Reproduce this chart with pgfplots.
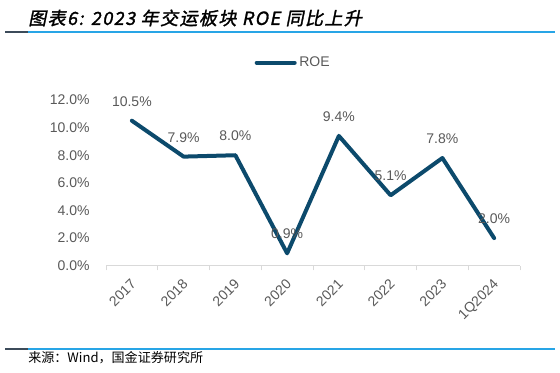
\documentclass[border=0pt]{standalone}
\usepackage{pgfplots}
\pgfplotsset{compat=1.18}
\usepackage{fontspec}
\setmainfont{Liberation Sans}
\newfontfamily\cjk{Noto Sans CJK SC}
\newfontfamily\cjktitle[FakeSlant=0.2,FakeBold=1.5]{Noto Sans CJK SC}
\definecolor{roe}{RGB}{12,74,108}
\definecolor{txt}{RGB}{89,89,89}
\definecolor{axl}{RGB}{217,217,217}
\definecolor{rulelight}{RGB}{40,165,230}
\definecolor{ruledark}{RGB}{60,75,90}
\begin{document}
\begin{tikzpicture}
\path[use as bounding box] (0,0) rectangle (420pt,-279.75pt);
\node[anchor=west,inner sep=0pt] at (21pt,-13.5pt) {\fontsize{13.5pt}{15pt}\cjktitle\addfontfeature{LetterSpace=8} 图表6: 2023 年交运板块 ROE 同比上升};
\draw[ruledark,line width=1.5pt] (3.75pt,-24pt) -- (21pt,-24pt);
\draw[rulelight,line width=1.5pt] (21pt,-24pt) -- (416.25pt,-24pt);
\draw[ruledark,line width=1.5pt] (3.75pt,-261.75pt) -- (21pt,-261.75pt);
\draw[rulelight,line width=1.5pt] (21pt,-261.75pt) -- (416.25pt,-261.75pt);
\node[anchor=west,inner sep=0pt] at (21pt,-268.5pt) {\fontsize{9.8pt}{11pt}\cjk 来源：Wind，国金证券研究所};
\begin{axis}[
  at={(79.5pt,-199.3pt)}, anchor=south west,
  scale only axis, width=310.5pt, height=124.3pt,
  xmin=-0.5, xmax=7.5, ymin=0, ymax=12,
  axis lines*=left,
  x axis line style={draw=axl, line width=0.75pt},
  y axis line style={draw=none},
  xtick={0,...,7},
  xticklabels={2017,2018,2019,2020,2021,2022,2023,1Q2024},
  major x tick style={draw=none},
  minor xtick={-0.5,0.5,...,7.5},
  minor x tick style={draw=axl, line width=0.75pt},
  minor tick length=3.5pt,
  tick align=outside,
  ytick={0,2,...,12},
  ytick style={draw=none},
  yticklabel={\pgfmathprintnumber[fixed,fixed zerofill,precision=1]{\tick}\%},
  /pgf/number format/assume math mode=true,
  tick label style={font=\fontsize{10.5pt}{12pt}\selectfont, text=txt},
  yticklabel style={xshift=-4.5pt},
  xticklabel style={rotate=45, anchor=north east, xshift=-1pt, yshift=1pt},
  legend style={at={(0.453,1.225)}, anchor=center, draw=none, fill=none,
    font=\fontsize{10.5pt}{12pt}\selectfont, text=txt},
  legend image code/.code={\draw[#1, line cap=round] (0pt,0pt) -- (28.5pt,0pt);},
  nodes near coords={\pgfmathprintnumber[fixed,fixed zerofill,precision=1]{\pgfplotspointmeta}\%},
  point meta=y,
  every node near coord/.append style={font=\fontsize{10.5pt}{12pt}\selectfont, text=txt, anchor=south, yshift=6pt},
  clip=false,
]
\addplot[roe, line width=3pt, line cap=round, line join=round] coordinates {
(0,10.5) (1,7.9) (2,8.0) (3,0.9) (4,9.4) (5,5.1) (6,7.8) (7,2.0)
};
\addlegendentry{ROE}
\end{axis}
\end{tikzpicture}
\end{document}
